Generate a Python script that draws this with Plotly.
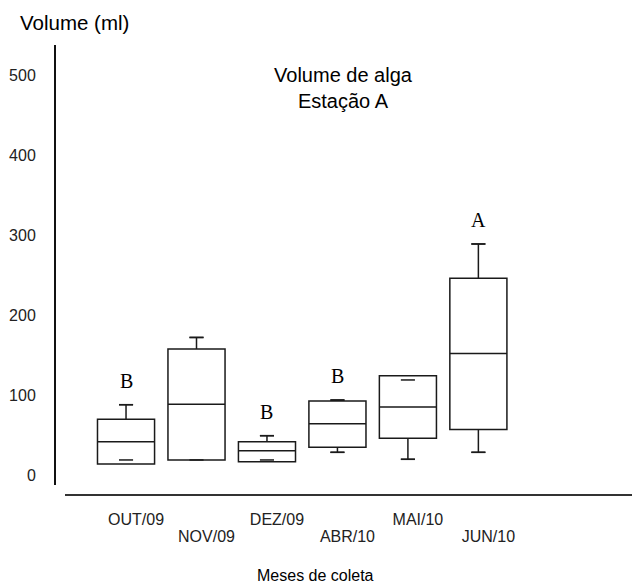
import plotly.graph_objects as go

# ---- data ----
months = ["OUT/09", "NOV/09", "DEZ/09", "ABR/10", "MAI/10", "JUN/10"]
q1 = [13.8, 18.8, 16.6, 34.6, 45.9, 57.0]
median = [41.6, 88.4, 30.4, 64.2, 85.0, 152.0]
q3 = [69.6, 157.5, 41.6, 92.5, 124.1, 245.8]
lower_whisker = [18.8, 18.8, 18.8, 28.3, 19.6, 28.3]
upper_whisker = [87.9, 172.0, 49.2, 93.7, 118.8, 288.8]
letters = ["B", "", "B", "B", "", "A"]
y_ticks = [0, 100, 200, 300, 400, 500]

W, H = 636, 586
px_x = lambda p: p / W
px_y = lambda p: 1 - p / H

line_col = "#1a1a1a"
box_width = 0.81
cap_half = 0.1

pos = list(range(len(months)))

fig = go.Figure()
fig.add_trace(go.Box(
    x=pos,
    q1=q1, median=median, q3=q3,
    lowerfence=lower_whisker, upperfence=upper_whisker,
    width=box_width,
    fillcolor="rgba(0,0,0,0)",
    line=dict(color=line_col, width=1.5),
    whiskerwidth=2 * cap_half / box_width,
    boxpoints=False,
    showlegend=False,
    hoverinfo="skip",
))

# whisker caps (also those that fall inside the box)
cx, cy = [], []
for p, lw, uw in zip(pos, lower_whisker, upper_whisker):
    for v in (lw, uw):
        cx += [p - cap_half, p + cap_half, None]
        cy += [v, v, None]
fig.add_trace(go.Scatter(x=cx, y=cy, mode="lines",
                         line=dict(color=line_col, width=1.5),
                         showlegend=False, hoverinfo="skip"))

# invisible trace so the second (lower-row) category axis is drawn
fig.add_trace(go.Scatter(x=pos, y=median, xaxis="x2", mode="markers",
                         marker=dict(opacity=0), showlegend=False,
                         hoverinfo="skip"))

for p, let, uw in zip(pos, letters, upper_whisker):
    if let:
        fig.add_annotation(
            x=p, y=uw, xref="x", yref="y", text=let, showarrow=False,
            yanchor="middle", yshift=24,
            font=dict(family="Liberation Serif", size=20, color="#000"),
        )

fig.add_annotation(x=px_x(74), y=px_y(22), xref="paper", yref="paper",
                   text="Volume (ml)", showarrow=False,
                   xanchor="center", yanchor="middle",
                   font=dict(family="Liberation Sans", size=20.5, color="#000"))
fig.add_annotation(x=px_x(315), y=px_y(575), xref="paper", yref="paper",
                   text="Meses de coleta", showarrow=False,
                   xanchor="center", yanchor="middle",
                   font=dict(family="Liberation Sans", size=16, color="#000"))

x_range = [-0.866, 7.18]
tick_font = dict(family="Liberation Sans", size=16, color="#222")

fig.update_layout(
    width=W, height=H,
    margin=dict(l=0, r=0, t=0, b=0),
    paper_bgcolor="white", plot_bgcolor="white",
    title=dict(text="Volume de alga<br>Estação A", x=px_x(343), y=px_y(82),
               xanchor="center", yanchor="middle",
               font=dict(family="Liberation Sans", size=20, color="#000")),
    xaxis=dict(
        domain=[px_x(65), px_x(632)],
        anchor="free", position=px_y(495),
        range=x_range,
        tickvals=pos[0::2], ticktext=months[0::2],
        showline=True, linecolor="#333", linewidth=2,
        showgrid=False, zeroline=False, ticks="",
        ticklabelstandoff=10, ticklabelshift=10,
        tickfont=tick_font,
        automargin=False,
    ),
    xaxis2=dict(
        domain=[px_x(65), px_x(632)],
        anchor="free", position=px_y(495),
        overlaying="x", matches="x",
        range=x_range,
        tickvals=pos[1::2], ticktext=months[1::2],
        showline=False,
        showgrid=False, zeroline=False, ticks="",
        ticklabelstandoff=30, ticklabelshift=10,
        tickfont=tick_font,
        automargin=False,
    ),
    yaxis=dict(
        domain=[px_y(485), px_y(45)],
        anchor="free", position=px_x(55),
        range=[-12.5, 537.5],
        tickvals=y_ticks,
        showline=True, linecolor="#111", linewidth=2,
        showgrid=False, zeroline=False, ticks="",
        ticklabelstandoff=15,
        tickfont=tick_font,
        automargin=False,
    ),
)

fig.write_html("out.html")
